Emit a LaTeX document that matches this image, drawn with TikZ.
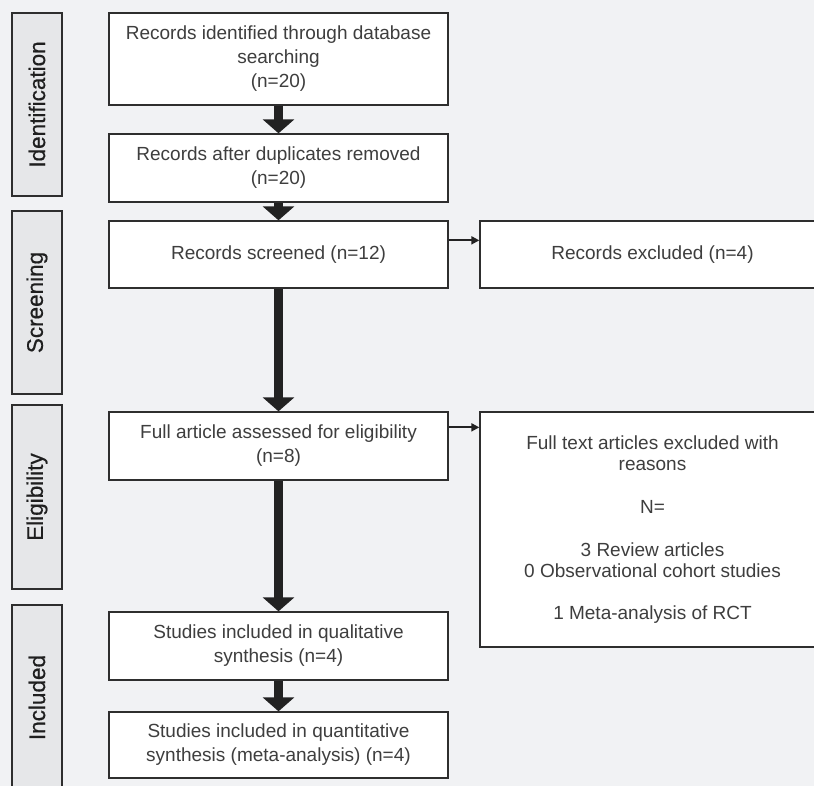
\documentclass[tikz,border=0pt]{standalone}
\usepackage{fontspec}
\setmainfont{Liberation Sans}
\newfontfamily\stagefont[FakeBold=0.6]{Liberation Sans}
\usetikzlibrary{arrows.meta}
\definecolor{bgcol}{HTML}{F1F2F4}
\definecolor{stagefill}{HTML}{E6E7E9}
\definecolor{edgecol}{HTML}{2E2E2E}
\definecolor{txtcol}{HTML}{3E3E3E}
\definecolor{arrcol}{HTML}{222222}
\tikzset{
  flowbox/.style={draw=edgecol, line width=1.3pt, fill=white, inner sep=0pt,
    align=center, text=txtcol, font=\fontsize{19}{24}\selectfont},
  stagebox/.style={draw=edgecol, line width=1.3pt, fill=stagefill, inner sep=0pt,
    minimum width=50pt, text=black!88, font=\stagefont\fontsize{22.5}{26}\selectfont},
  bigarrow/.style={draw=arrcol, line width=9.5pt, -{Triangle[width=31pt,length=14pt]}},
  thinarrow/.style={draw=arrcol, line width=1.8pt, -{Triangle[width=8pt,length=8pt]}}
}
\begin{document}
\begin{tikzpicture}[x=1pt,y=-1pt]
\useasboundingbox (0,0) rectangle (814,786);
\clip (0,0) rectangle (814,786);
\fill[bgcol] (0,0) rectangle (814,786);
% stage labels
\node[stagebox, minimum height=183pt] (s1) at (37,104.5) {\rotatebox{90}{Identification}};
\node[stagebox, minimum height=183pt] (s2) at (37,302.5) {\rotatebox{90}{Screening}};
\node[stagebox, minimum height=184pt] (s3) at (37,497) {\rotatebox{90}{Eligibility}};
\node[stagebox, minimum height=185pt] (s4) at (37,697.5) {\rotatebox{90}{Included}};
% main column
\node[flowbox, minimum width=339pt, minimum height=92pt] (b1) at (278.5,59)
  {Records identified through database\\searching\\(n=20)};
\node[flowbox, minimum width=339pt, minimum height=68pt] (b2) at (278.5,168)
  {Records after duplicates removed\\(n=20)};
\node[flowbox, minimum width=339pt, minimum height=67pt] (b3) at (278.5,254.5)
  {Records screened (n=12)};
\node[flowbox, minimum width=339pt, minimum height=68pt] (b4) at (278.5,446)
  {Full article assessed for eligibility\\(n=8)};
\node[flowbox, minimum width=339pt, minimum height=68pt] (b5) at (278.5,646)
  {Studies included in qualitative\\synthesis (n=4)};
\node[flowbox, minimum width=339pt, minimum height=66pt] (b6) at (278.5,745)
  {Studies included in quantitative\\synthesis (meta-analysis) (n=4)};
% right column
\node[flowbox, minimum width=345pt, minimum height=67pt] (r1) at (652.5,254.5)
  {Records excluded (n=4)};
\node[flowbox, minimum width=345pt, minimum height=235pt,
  font=\fontsize{19}{21}\selectfont] (r2) at (652.5,529.5)
  {Full text articles excluded with\\reasons\\[22pt]N=\\[22pt]3 Review articles\\0 Observational cohort studies\\[21pt]1 Meta-analysis of RCT};
% connectors
\draw[bigarrow] (b1.south) -- (b2.north);
\draw[bigarrow] (b2.south) -- (b3.north);
\draw[bigarrow] (b3.south) -- (b4.north);
\draw[bigarrow] (b4.south) -- (b5.north);
\draw[bigarrow] (b5.south) -- (b6.north);
\draw[thinarrow] ([yshift=-20pt]b3.north east) -- ([yshift=-20pt]r1.north west);
\draw[thinarrow] ([yshift=-16pt]b4.north east) -- ([yshift=-16pt]r2.north west);
\end{tikzpicture}
\end{document}
